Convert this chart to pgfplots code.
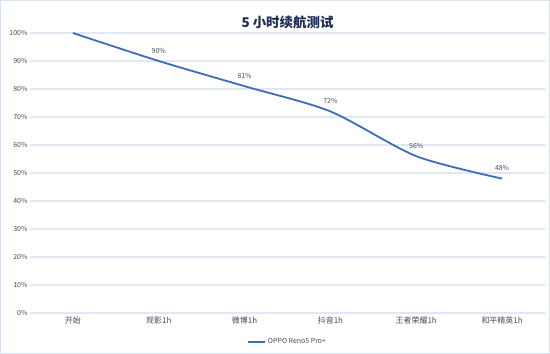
\documentclass[border=0pt]{standalone}
\usepackage{pgfplots}
\pgfplotsset{compat=1.18}
\usepackage{fontspec}
\setmainfont{Noto Sans CJK SC}
\definecolor{lineblue}{RGB}{62,108,186}
\definecolor{gridc}{RGB}{224,232,245}
\definecolor{txt}{RGB}{70,75,85}
\definecolor{titlec}{RGB}{30,45,85}
\definecolor{framec}{RGB}{214,226,240}
\begin{document}
\begin{tikzpicture}
\draw[framec, line width=1bp] (-29.5bp,-40.5bp) rectangle (519.5bp,312.5bp);
\begin{axis}[
  at={(0,0)}, anchor=south west,
  scale only axis, width=515bp, height=280bp,
  xmin=-0.5, xmax=5.5, ymin=0, ymax=100,
  xtick={0,1,2,3,4,5},
  xticklabels={开始,观影1h,微博1h,抖音1h,王者荣耀1h,和平精英1h},
  ytick={0,10,...,100},
  yticklabel={\pgfmathprintnumber{\tick}\%},
  /pgf/number format/assume math mode=true,
  axis line style={draw=none},
  tick style={draw=none},
  ymajorgrids, grid style={gridc, line width=1.1bp},
  yticklabel style={font=\fontsize{7}{8}\selectfont, text=txt, xshift=1bp},
  xticklabel style={font=\fontsize{8}{9}\selectfont, text=txt},
  title={5 小时续航测试},
  title style={font=\fontsize{13.5}{15}\selectfont\bfseries, text=titlec, yshift=-5bp},
  legend style={at={(0.5,-0.075)}, anchor=north, draw=none, font=\fontsize{7}{8}\selectfont, text=txt, fill=none},
  legend image post style={line width=2bp},
  clip=false,
]
\addplot[lineblue, line width=1.8bp, smooth, tension=0.45] coordinates {(0,100) (1,90) (2,81) (3,72) (4,56) (5,48)};
\addlegendentry{OPPO Reno5 Pro+}
\addplot[draw=none, forget plot, nodes near coords={\pgfmathprintnumber{\pgfplotspointmeta}\%},
  nodes near coords style={font=\fontsize{7}{8}\selectfont, text=txt, yshift=4bp}] coordinates {(1,90) (2,81) (3,72) (4,56) (5,48)};
\end{axis}
\end{tikzpicture}
\end{document}
